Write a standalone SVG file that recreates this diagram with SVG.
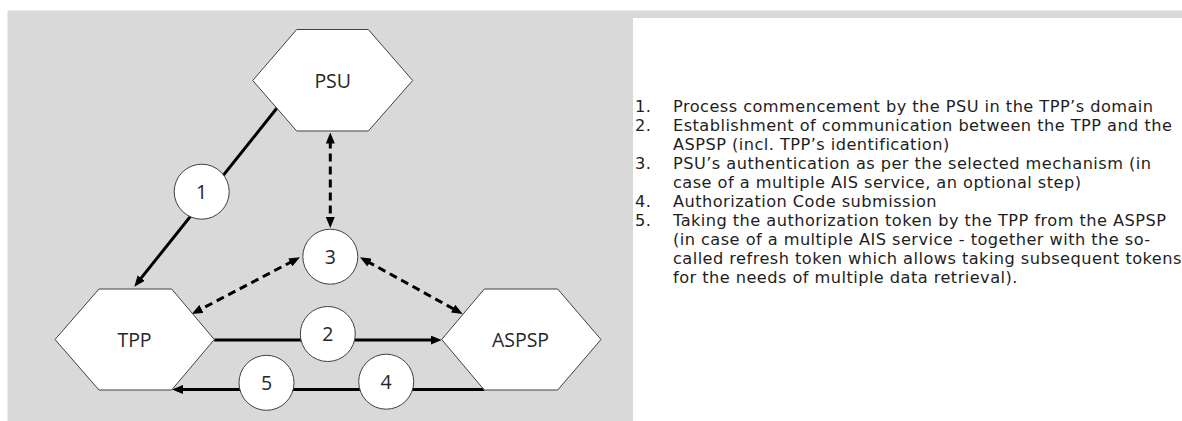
<svg xmlns="http://www.w3.org/2000/svg" width="1182" height="421" viewBox="0 0 1182 421">
  <style>
    .hex { fill: #ffffff; stroke: #404040; stroke-width: 1; }
    .step { fill: #ffffff; stroke: #404040; stroke-width: 1; }
    .label { font-family: "Open Sans", "Liberation Sans", Arial, sans-serif; font-size: 19.5px; fill: #262626; text-anchor: middle; }
    .num { font-family: "Open Sans", "Liberation Sans", Arial, sans-serif; font-size: 19.5px; fill: #262626; text-anchor: middle; }
    .flow { fill: none; stroke: #000000; stroke-width: 3; }
    .dash { stroke-dasharray: 8 5; }
    .legend { font-family: "DejaVu Sans", "Liberation Sans", Arial, sans-serif; font-size: 16.2px; letter-spacing: 0.45px; fill: #1e1e1e; }
  </style>
  <defs>
    <marker id="head" markerUnits="userSpaceOnUse" markerWidth="11" markerHeight="9" refX="3" refY="4.5" orient="auto-start-reverse" viewBox="0 0 11 9">
      <path d="M0,0 L11,4.5 L0,9 z" fill="#000000"/>
    </marker>
  </defs>

  <!-- background panels -->
  <rect x="7.5" y="10.5" width="625.5" height="410.5" fill="#d9d9d9"/>
  <rect x="633" y="10.5" width="549" height="7.5" fill="#d9d9d9"/>

  <!-- connectors -->
  <g id="connectors">
    <line class="flow" x1="277" y1="108" x2="139.3" y2="280.4" marker-end="url(#head)"/>
    <line class="flow dash" x1="330.3" y1="140.5" x2="330.3" y2="220" marker-start="url(#head)" marker-end="url(#head)"/>
    <line class="flow dash" x1="292.9" y1="261" x2="198.8" y2="310.3" marker-start="url(#head)" marker-end="url(#head)"/>
    <line class="flow dash" x1="367" y1="261.2" x2="455.7" y2="310.1" marker-start="url(#head)" marker-end="url(#head)"/>
    <line class="flow" x1="214.3" y1="340" x2="433.7" y2="340" marker-end="url(#head)"/>
    <line class="flow" x1="484.3" y1="389.5" x2="180" y2="389.5" marker-end="url(#head)"/>
  </g>

  <!-- parties -->
  <g id="psu">
    <polygon class="hex" points="252.7,80.5 296.7,29.5 368.3,29.5 412.7,80.5 368.3,131 296.7,131"/>
    <text class="label" x="332.7" y="88">PSU</text>
  </g>
  <g id="tpp">
    <polygon class="hex" points="55,339.5 99,289 171.7,289 214.3,339.5 171.7,390 99,390"/>
    <text class="label" x="134.5" y="346.7">TPP</text>
  </g>
  <g id="aspsp">
    <polygon class="hex" points="441.7,339.5 484.3,289 557.7,289 601,339.5 557.7,390 484.3,390"/>
    <text class="label" x="520.5" y="346.7">ASPSP</text>
  </g>

  <!-- numbered steps -->
  <g id="step1">
    <circle class="step" cx="201.7" cy="191.7" r="27.5"/>
    <text class="num" x="201.7" y="198.6">1</text>
  </g>
  <g id="step2">
    <circle class="step" cx="327.8" cy="334" r="27.5"/>
    <text class="num" x="327.8" y="340.9">2</text>
  </g>
  <g id="step3">
    <circle class="step" cx="330.3" cy="256.7" r="27.5"/>
    <text class="num" x="330.3" y="263.6">3</text>
  </g>
  <g id="step4">
    <circle class="step" cx="386.2" cy="381.7" r="27.5"/>
    <text class="num" x="386.2" y="388.6">4</text>
  </g>
  <g id="step5">
    <circle class="step" cx="266.5" cy="382.8" r="27.5"/>
    <text class="num" x="266.5" y="389.7">5</text>
  </g>

  <!-- legend -->
  <g id="legend" class="legend">
    <text x="635" y="111.5">1.</text>
    <text x="673" y="111.5">Process commencement by the PSU in the TPP’s domain</text>
    <text x="635" y="130.6">2.</text>
    <text x="673" y="130.6">Establishment of communication between the TPP and the</text>
    <text x="673" y="149.7">ASPSP (incl. TPP’s identification)</text>
    <text x="635" y="168.8">3.</text>
    <text x="673" y="168.8">PSU’s authentication as per the selected mechanism (in</text>
    <text x="673" y="187.9">case of a multiple AIS service, an optional step)</text>
    <text x="635" y="207">4.</text>
    <text x="673" y="207">Authorization Code submission</text>
    <text x="635" y="226.1">5.</text>
    <text x="673" y="226.1">Taking the authorization token by the TPP from the ASPSP</text>
    <text x="673" y="245.2">(in case of a multiple AIS service - together with the so-</text>
    <text x="673" y="264.3">called refresh token which allows taking subsequent tokens</text>
    <text x="673" y="283.4">for the needs of multiple data retrieval).</text>
  </g>
</svg>
